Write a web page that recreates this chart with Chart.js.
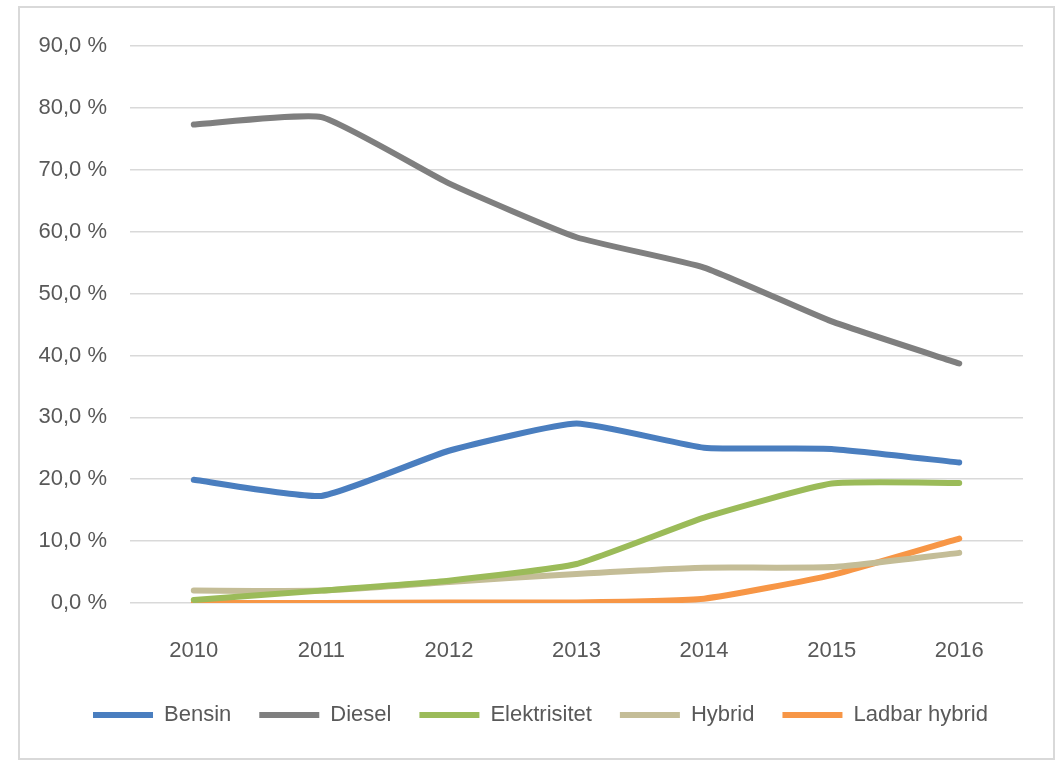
<!DOCTYPE html>
<html>
<head>
<meta charset="utf-8">
<script src="https://cdn.jsdelivr.net/npm/chart.js@4"></script>
<style>
  html, body { margin: 0; padding: 0; background: #fff; }
  #ramme {
    position: absolute; left: 18px; top: 6px;
    width: 1033px; height: 750px;
    border: 2px solid #d9d9d9;
    background: #fff;
  }
  canvas { display: block; }
</style>
</head>
<body>
<div id="ramme"><canvas id="grafikk" width="1033" height="750"></canvas></div>
<script>
const aar = ['2010', '2011', '2012', '2013', '2014', '2015', '2016'];
const bensin = [19.9, 17.3, 24.6, 29.0, 25.1, 24.9, 22.7];
const diesel = [77.3, 78.5, 67.8, 59.1, 54.2, 45.5, 38.7];
const elektrisitet = [0.5, 2.0, 3.6, 6.3, 13.8, 19.3, 19.4];
const hybrid = [2.0, 2.0, 3.4, 4.7, 5.7, 5.8, 8.1];
const ladbarHybrid = [0.0, 0.0, 0.1, 0.1, 0.7, 4.5, 10.4];

const serier = [
    { label: 'Bensin', data: bensin, farge: '#4a7ebf' },
    { label: 'Diesel', data: diesel, farge: '#7f7f7f' },
    { label: 'Elektrisitet', data: elektrisitet, farge: '#9bbb59' },
    { label: 'Hybrid', data: hybrid, farge: '#c4bd97' },
    { label: 'Ladbar hybrid', data: ladbarHybrid, farge: '#f79646' }
];

const skrift = { family: '"Liberation Sans", Arial, sans-serif', size: 22 };

// flytter forklaringen litt mot høyre, slik som i originalen
const flyttForklaring = {
    id: 'flyttForklaring',
    afterLayout(chart) {
        if (chart.legend) {
            chart.legend.left += 38;
        }
    }
};

new Chart(document.getElementById('grafikk').getContext('2d'), {
    type: 'line',
    data: {
        labels: aar,
        datasets: serier.map(s => ({
            label: s.label,
            data: s.data,
            borderColor: s.farge,
            backgroundColor: s.farge,
            borderWidth: 6,
            borderCapStyle: 'round',
            borderJoinStyle: 'round',
            pointRadius: 0,
            pointHoverRadius: 0,
            pointStyle: 'line',
            tension: 0.15,
            fill: false
        }))
    },
    plugins: [flyttForklaring],
    options: {
        responsive: false,
        animation: false,
        layout: { padding: { left: 0, right: 30, top: 38, bottom: 22 } },
        scales: {
            x: {
                offset: true,
                grid: { display: false, offset: true },
                border: { display: false },
                ticks: { color: '#595959', font: skrift, padding: 27 },
                afterFit: scale => { scale.height = 73; }
            },
            y: {
                min: 0,
                max: 90,
                grid: { color: '#d9d9d9', lineWidth: 1.5, drawTicks: false },
                border: { display: false },
                ticks: {
                    stepSize: 10,
                    color: '#595959',
                    font: skrift,
                    padding: 23,
                    callback: v => v.toFixed(1).replace('.', ',') + ' %'
                },
                afterFit: scale => { scale.width = 110; }
            }
        },
        plugins: {
            legend: {
                position: 'bottom',
                labels: {
                    usePointStyle: true,
                    pointStyleWidth: 60,
                    boxHeight: 22,
                    padding: 28,
                    color: '#595959',
                    font: skrift
                }
            },
            tooltip: { enabled: false }
        }
    }
});
</script>
</body>
</html>
